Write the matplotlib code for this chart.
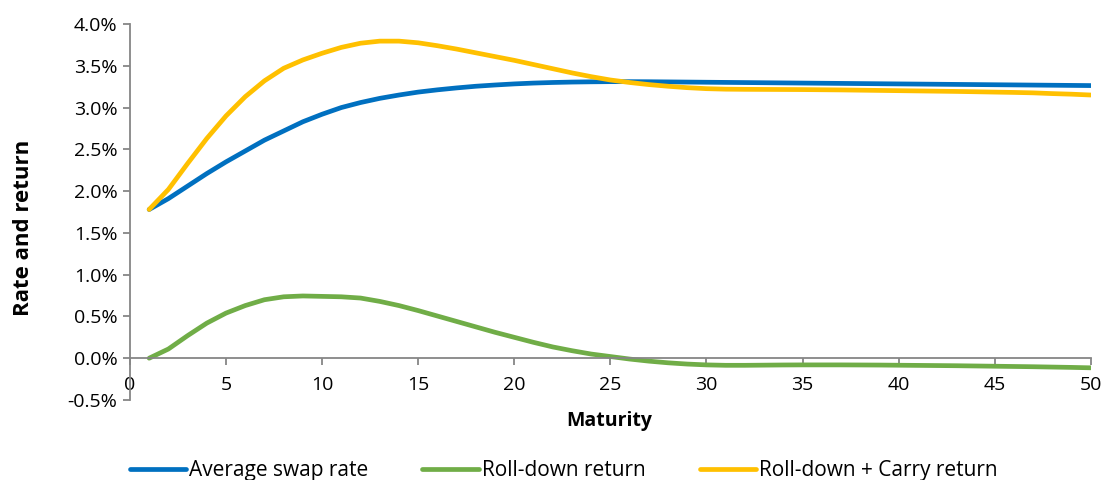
import numpy as np
import matplotlib.pyplot as plt
from matplotlib.ticker import FuncFormatter, MultipleLocator

plt.rcParams['font.family'] = ['Open Sans', 'DejaVu Sans']

maturity = np.arange(1, 51)

# average swap rate, %
swap_rate = [1.78, 1.91, 2.06, 2.21, 2.35, 2.48, 2.61, 2.72, 2.83, 2.92,
             3.00, 3.06, 3.11, 3.150, 3.185, 3.212, 3.235, 3.255, 3.270, 3.283,
             3.293, 3.300, 3.305, 3.308, 3.310, 3.310, 3.309, 3.307, 3.305, 3.303,
             3.301, 3.299, 3.297, 3.295, 3.293, 3.291, 3.289, 3.287, 3.285, 3.283,
             3.281, 3.279, 3.277, 3.275, 3.273, 3.271, 3.269, 3.267, 3.265, 3.263]

# roll-down return, %
roll_down = [0.00, 0.11, 0.27, 0.42, 0.54, 0.63, 0.70, 0.735, 0.745, 0.740,
             0.735, 0.72, 0.68, 0.63, 0.57, 0.505, 0.44, 0.375, 0.31, 0.25,
             0.19, 0.135, 0.09, 0.05, 0.02, -0.01, -0.035, -0.055, -0.07, -0.08,
             -0.085, -0.085, -0.083, -0.081, -0.080, -0.080, -0.080, -0.081, -0.082, -0.084,
             -0.086, -0.088, -0.090, -0.093, -0.096, -0.099, -0.102, -0.106, -0.110, -0.115]

# roll-down + carry return, %
roll_carry = [1.78, 2.02, 2.33, 2.63, 2.90, 3.13, 3.32, 3.47, 3.57, 3.65,
              3.72, 3.77, 3.795, 3.795, 3.775, 3.74, 3.70, 3.655, 3.61, 3.565,
              3.515, 3.465, 3.415, 3.37, 3.33, 3.30, 3.275, 3.255, 3.238, 3.226,
              3.220, 3.218, 3.217, 3.216, 3.215, 3.213, 3.211, 3.208, 3.205, 3.202,
              3.199, 3.196, 3.193, 3.189, 3.185, 3.181, 3.176, 3.167, 3.160, 3.150]

fig = plt.figure(figsize=(11.05, 4.8), dpi=100)
ax = fig.add_axes([0.1176, 0.1667, 0.8695, 0.7833])

ax.plot(maturity, swap_rate, color='#0070C0', lw=3.4,
        solid_capstyle='round', label='Average swap rate')
ax.plot(maturity, roll_down, color='#70AD47', lw=3.4,
        solid_capstyle='round', label='Roll-down return')
ax.plot(maturity, roll_carry, color='#FFC000', lw=3.4,
        solid_capstyle='round', label='Roll-down + Carry return')

ax.set_xlim(0, 50)
ax.set_ylim(-0.5, 4.0)
ax.xaxis.set_major_locator(MultipleLocator(5))
ax.yaxis.set_major_locator(MultipleLocator(0.5))
ax.yaxis.set_major_formatter(FuncFormatter(lambda v, p: f"{v:.1f}%"))

for s in ['top', 'right']:
    ax.spines[s].set_visible(False)
ax.spines['bottom'].set_position(('data', 0))
for s in ['bottom', 'left']:
    ax.spines[s].set_color('#868686')
    ax.spines[s].set_linewidth(1.3)

ax.tick_params(axis='both', colors='#868686', length=5, width=1.3,
               labelcolor='#000000', labelsize=14)
ax.tick_params(axis='x', pad=8)
ax.tick_params(axis='y', pad=4)

ax.set_xlabel('Maturity', fontsize=14, fontweight='bold')
ax.xaxis.set_label_coords(0.499, -0.03)
ax.set_ylabel('Rate and return', fontsize=16, fontweight='bold')
ax.yaxis.set_label_coords(-0.1, 0.457)

fig.legend(loc='lower center', bbox_to_anchor=(0.51, -0.042), ncol=3,
           frameon=False, fontsize=15, handlelength=2.7, handletextpad=0.15,
           columnspacing=2.6)

plt.savefig('out.png', dpi=100)
